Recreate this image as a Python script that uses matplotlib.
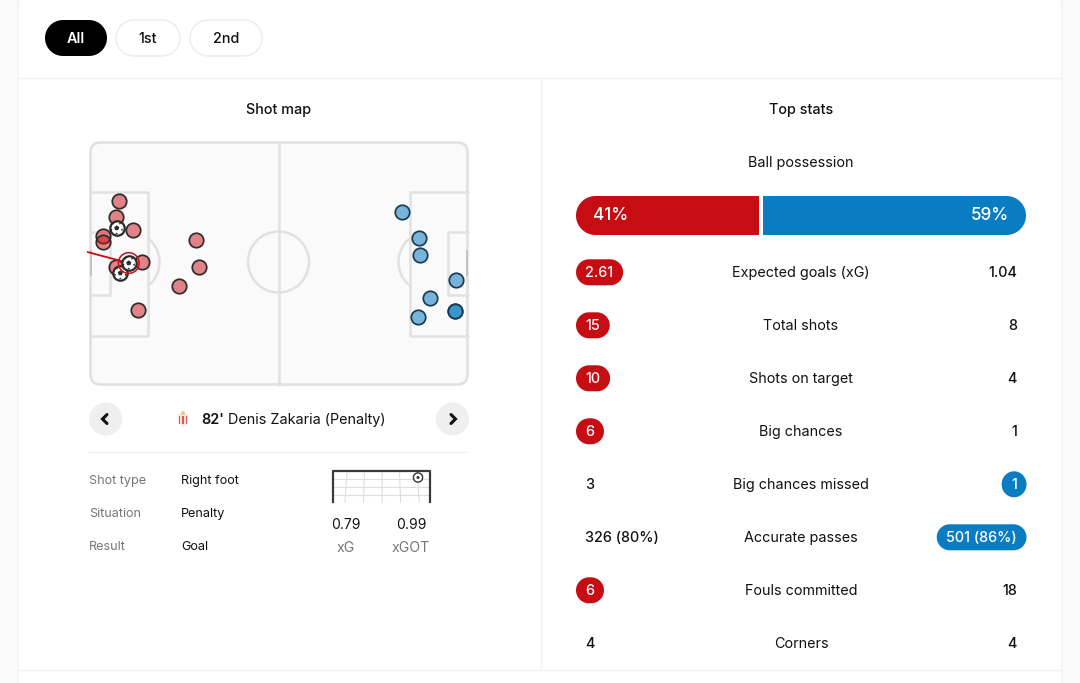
import numpy as np
import matplotlib
matplotlib.use("Agg")
import matplotlib.pyplot as plt
from matplotlib.patches import FancyBboxPatch, Circle, Arc, Rectangle, Polygon, PathPatch
from matplotlib.path import Path
from matplotlib.colors import to_rgba

# ---------- data ----------
home_x = [8.25, 7.4, 11.9, 3.8, 3.8, 14.45, 7.2, 29.65, 30.35, 24.7, 13.4]
home_y = [16.7, 21.1, 24.7, 26.3, 28.05, 33.6, 35.05, 27.5, 35.15, 40.3, 47.2]
home_goal_x = [8.5, 7.5, 10.85]
home_goal_y = [36.75, 24.15, 33.95]
away_x = [86.75, 91.4, 91.75, 101.75, 94.5, 101.6, 101.6, 91.3]
away_y = [19.8, 26.85, 31.7, 38.7, 43.85, 47.5, 47.5, 49.0]
selected_x = 10.85
selected_y = 33.95

stat_labels = ["Expected goals (xG)", "Total shots", "Shots on target", "Big chances",
               "Big chances missed", "Accurate passes", "Fouls committed", "Corners"]
home_vals = ["2.61", "15", "10", "6", "3", "326 (80%)", "6", "4"]
away_vals = ["1.04", "8", "4", "1", "1", "501 (86%)", "18", "4"]
highlight = ["home", "home", "home", "home", "away", "away", "home", None]
possession = [41, 59]
periods = ["All", "1st", "2nd"]
detail_labels = ["Shot type", "Situation", "Result"]
detail_vals = ["Right foot", "Penalty", "Goal"]
xg_vals = ["0.79", "0.99"]
xg_labels = ["xG", "xGOT"]

# ---------- style ----------
plt.rcParams["font.family"] = ["Inter", "DejaVu Sans"]
RED = "#c70d14"
BLUE = "#0a7cc1"
INK = "#111111"
GREY = "#767676"
LINE = "#e1e1e1"
EDGE = "#2e2a2c"
FS = 10.35

fig = plt.figure(figsize=(10.8, 6.83), dpi=100, facecolor="#fbfbfb")
ax = fig.add_axes([0, 0, 1, 1])
ax.set_xlim(0, 1080)
ax.set_ylim(683, 0)
ax.axis("off")


def pill_path(x, y, w, h):
    r = min(w, h) / 2
    t = np.linspace(-np.pi / 2, np.pi / 2, 40)
    right = np.c_[x + w - r + r * np.cos(t), y + h / 2 + (h / 2) * np.sin(t)]
    left = np.c_[x + r - r * np.cos(t), y + h / 2 - (h / 2) * np.sin(t)]
    return Path(np.vstack([right, left, right[:1]]), closed=True)


def pill(x, y, w, h, fc, ec="none", lw=1, z=2):
    p = PathPatch(pill_path(x, y, w, h), fc=fc, ec=ec, lw=lw, zorder=z)
    ax.add_patch(p)
    return p


def label(x, y, s, size=FS, color=INK, ha="center", weight="normal", z=5):
    return ax.text(x, y + 1.2, s, fontsize=size, color=color, ha=ha, va="center",
                   fontweight=weight, zorder=z)


# card
card = FancyBboxPatch((30, 10), 1020, 700, boxstyle="round,pad=12,rounding_size=14",
                      fc="white", ec="#f1f1f1", lw=1, zorder=1)
ax.add_patch(card)
card.set_y(4)
ax.plot([18, 1062], [78, 78], color="#f3f3f3", lw=1, zorder=2)
ax.plot([18, 1062], [669.5, 669.5], color="#f3f3f3", lw=1, zorder=2)
ax.plot([540.5, 540.5], [78, 669], color="#f3f3f3", lw=1, zorder=2)

# period buttons
btn_x = [45, 116, 190]
btn_w = [62, 64, 72]
for i, name in enumerate(periods):
    active = i == 0
    pill(btn_x[i], 20, btn_w[i], 36, "black" if active else "white",
         ec="none" if active else "#ececec")
    label(btn_x[i] + btn_w[i] / 2, 37.5, name, color="white" if active else INK,
          weight="semibold" if active else "medium")

label(279, 108.5, "Shot map", weight="medium")
label(801, 108.5, "Top stats", weight="medium")

# pitch (pixel layout)
P = dict(lw=1.8, color=LINE, zorder=3, solid_capstyle="round")
pitch_bg = FancyBboxPatch((100.5, 152.5), 357, 222, boxstyle="round,pad=10,rounding_size=10",
                          fc="#fafafa", ec=LINE, lw=1.9, zorder=2)
ax.add_patch(pitch_bg)
ax.plot([278.5, 278.5], [142, 385], **P)
ax.add_patch(Circle((278.5, 262), 30.5, fc="none", ec=LINE, lw=1.8, zorder=3))
ax.plot([90, 148, 148, 90], [192, 192, 336, 336], **P)
ax.plot([90, 110, 110, 90], [232, 232, 295, 295], **P)
ax.plot([468, 410, 410, 468], [192, 192, 336, 336], **P)
ax.plot([468, 448, 448, 468], [232, 232, 295, 295], **P)
ax.add_patch(Arc((129, 262), 61, 61, theta1=-52, theta2=52, ec=LINE, lw=1.8, zorder=3))
ax.add_patch(Arc((429, 262), 61, 61, theta1=128, theta2=232, ec=LINE, lw=1.8, zorder=3))
ax.add_patch(Rectangle((89.5, 250), 2.5, 26, fc="#c4c4c4", ec="none", zorder=3))
ax.add_patch(Rectangle((465.5, 250), 2.5, 26, fc="#c4c4c4", ec="none", zorder=3))

# shots: pitch axes in metres
pa = fig.add_axes([89.7 / 1080, 1 - 384.7 / 683, 378 / 1080, 243 / 683])
pa.set_xlim(0, 105)
pa.set_ylim(68, 0)
pa.axis("off")
pa.patch.set_alpha(0)

S = 108
pa.scatter(home_x, home_y, s=S, fc=to_rgba(RED, 0.5), ec=EDGE, lw=1.25, zorder=4, clip_on=False)
pa.scatter(away_x, away_y, s=S, fc=to_rgba(BLUE, 0.55), ec="#1c3a50", lw=1.25, zorder=4, clip_on=False)

# football marker
angles = np.deg2rad(np.arange(90, 450, 72))
verts, codes = [], []
def add_poly(pts):
    verts.extend(list(pts) + [pts[0]])
    codes.extend([Path.MOVETO] + [Path.LINETO] * (len(pts) - 1) + [Path.CLOSEPOLY])
add_poly([(0.42 * np.cos(a), 0.42 * np.sin(a)) for a in angles])
for a in angles + np.deg2rad(36):
    add_poly([(1.0 * np.cos(a + d), 1.0 * np.sin(a + d)) for d in (-0.25, 0.25)]
             + [(0.7 * np.cos(a), 0.7 * np.sin(a))])
ball = Path(np.array(verts), codes)
pa.scatter(home_goal_x, home_goal_y, s=S, fc="white", ec=EDGE, lw=1.6, zorder=6, clip_on=False)
pa.scatter(home_goal_x, home_goal_y, s=S * 0.78, marker=ball, fc=EDGE, ec="none", zorder=7, clip_on=False)

# selected shot: trajectory and ring
pa.plot([-0.5, selected_x], [30.9, selected_y], color=RED, lw=1.3, zorder=5, clip_on=False)
pa.scatter([selected_x], [selected_y], s=S * 2.05, fc="none", ec=RED, lw=1.1, zorder=8, clip_on=False)

# nav row
for cx, pts in [(105.7, [(107, 414.5), (102.5, 419), (107, 423.5)]),
                (452.5, [(451, 414.5), (455.5, 419), (451, 423.5)])]:
    ax.add_patch(Circle((cx, 419), 16.5, fc="#efefef", ec="none", zorder=2))
    ax.plot(*zip(*pts), color="#111111", lw=2.2, zorder=3, solid_capstyle="round",
            solid_joinstyle="miter")

# crest
ax.add_patch(Polygon([(178, 414), (188, 414), (188, 422), (183, 427.5), (178, 422)],
                     fc="#f7e3dc", ec="none", zorder=3))
for x0 in (178.6, 182.1, 185.6):
    ax.add_patch(Rectangle((x0, 416), 1.8, 7.5, fc="#df5a4c", ec="none", zorder=4))
ax.add_patch(Circle((183, 413), 2.0, fc="#e6c98d", ec="none", zorder=4))

label(201, 418.5, "82'", ha="left", weight="semibold")
label(228.5, 418.5, "Denis Zakaria (Penalty)", ha="left")
ax.plot([89, 468], [452, 452], color="#f3f3f3", lw=1, zorder=2)

# detail table
for i, (k, v) in enumerate(zip(detail_labels, detail_vals)):
    y = 479.5 + 33 * i
    label(89, y, k, size=9.1, color=GREY, ha="left")
    label(181, y, v, size=9.1, ha="left")

# mini goal
for x in np.linspace(347, 417, 5):
    ax.plot([x, x + (x - 381) * 0.06], [471, 502], color="#dddddd", lw=0.8, zorder=2)
for y in (479, 487, 495):
    ax.plot([333, 430], [y, y], color="#dddddd", lw=0.8, zorder=2)
ax.plot([332.5, 332.5, 430, 430], [502, 471, 471, 502], color="#3a3a3a", lw=1.6, zorder=3,
        solid_joinstyle="round")
ax.add_patch(Circle((418, 477.5), 4.6, fc="white", ec="#333333", lw=1, zorder=4))
ax.add_patch(Circle((418, 477.5), 1.5, fc="#333333", ec="none", zorder=5))

for cx, v, k in zip((345.5, 411), xg_vals, xg_labels):
    label(cx, 523.5, v, size=10)
    label(cx, 546.5, k, size=10.2, color=GREY)

# possession
label(801, 161.5, "Ball possession")
bx = fig.add_axes([576 / 1080, 1 - 235 / 683, 450 / 1080, 39 / 683])
bx.set_xlim(0, sum(possession))
bx.set_ylim(0, 1)
bx.axis("off")
bars = bx.barh([0.5, 0.5], possession, left=[0, possession[0]], height=1,
               color=[RED, BLUE], edgecolor="none")
clip_path = pill_path(576, 683 - 235, 450, 39)
for b in bars:
    b.set_clip_path(clip_path, matplotlib.transforms.IdentityTransform())
bx.axvline(possession[0], color="white", lw=2.9, zorder=5)
bx.text(17 / 4.5, 0.5, f"{possession[0]}%", color="white", fontsize=12.3,
        va="center", ha="left", fontweight="medium", zorder=6)
bx.text(100 - 17 / 4.5, 0.5, f"{possession[1]}%", color="white", fontsize=12.3,
        va="center", ha="right", fontweight="medium", zorder=6)

# stat rows
renderer = fig.canvas.get_renderer()
for i, (name, h, a, hl) in enumerate(zip(stat_labels, home_vals, away_vals, highlight)):
    y = 271.8 + 53 * i
    label(801, y, name)
    for side, val in (("home", h), ("away", a)):
        col = RED if side == "home" else BLUE
        if hl == side:
            t = label(0, y, val, color="white", weight="medium")
            w = max(24, t.get_window_extent(renderer).width + 19)
            x0 = 576 if side == "home" else 1026.5 - w
            pill(x0, y - 12.5, w, 26, col, z=3)
            t.set_x(x0 + w / 2)
        else:
            if side == "home":
                label(585, y, val, ha="left", weight="medium")
            else:
                label(1017, y, val, ha="right", weight="medium")

fig.savefig("out.png", dpi=100, facecolor=fig.get_facecolor())
